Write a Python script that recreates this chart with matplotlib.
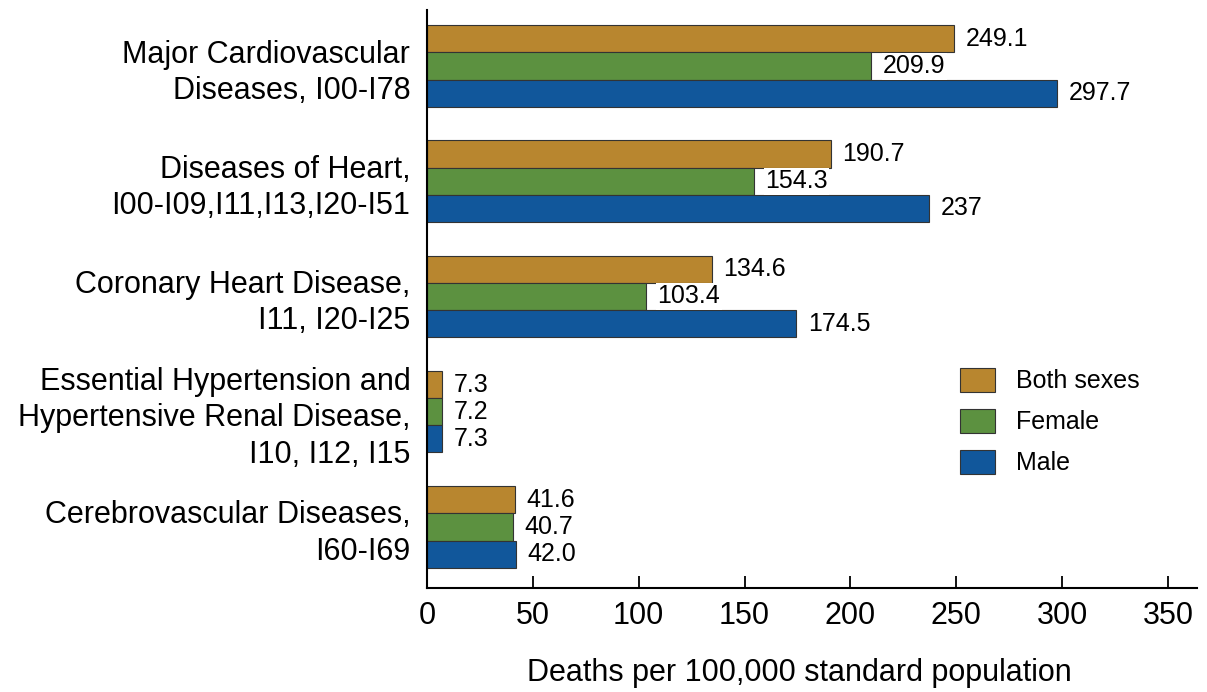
import numpy as np
import matplotlib.pyplot as plt

plt.rcParams['font.family'] = ['Liberation Sans', 'DejaVu Sans']

categories = ["Major Cardiovascular\nDiseases, I00-I78",
              "Diseases of Heart,\nI00-I09,I11,I13,I20-I51",
              "Coronary Heart Disease,\nI11, I20-I25",
              "Essential Hypertension and\nHypertensive Renal Disease,\nI10, I12, I15",
              "Cerebrovascular Diseases,\nI60-I69"]
both = [249.1, 190.7, 134.6, 7.3, 41.6]
female = [209.9, 154.3, 103.4, 7.2, 40.7]
male = [297.7, 237, 174.5, 7.3, 42.0]
both_lbl = ["249.1", "190.7", "134.6", "7.3", "41.6"]
female_lbl = ["209.9", "154.3", "103.4", "7.2", "40.7"]
male_lbl = ["297.7", "237", "174.5", "7.3", "42.0"]
series = [("Both sexes", both, both_lbl, "#B8862F"),
          ("Female", female, female_lbl, "#5C9140"),
          ("Male", male, male_lbl, "#11579B")]

fig = plt.figure(figsize=(12.07, 6.92), dpi=100)
ax = fig.add_axes([427/1207, 1 - 588/692, (1197-427)/1207, (588-10)/692])

y = np.arange(len(categories))
h = 0.236
for i, (name, vals, lbls, col) in enumerate(series):
    pos = y + (i - 1) * h
    ax.barh(pos, vals, height=h, color=col, edgecolor="#333333", linewidth=0.8, label=name)
    for p, v, t in zip(pos, vals, lbls):
        ax.text(v + 5.5, p, t, va="center", ha="left", fontsize=18,
                bbox=dict(facecolor="white", edgecolor="none", pad=1.0))

ax.set_ylim(4.53, -0.486)
ax.set_xlim(0, 363.7)
ax.set_yticks(y)
ax.set_yticklabels(categories, fontsize=22, linespacing=1.28)
ax.tick_params(axis="y", length=0, pad=12)
ax.set_xticks(np.arange(0, 351, 50))
ax.tick_params(axis="x", direction="in", length=9, width=1.3, labelsize=22, pad=9)
ax.spines["top"].set_visible(False)
ax.spines["right"].set_visible(False)
ax.spines["left"].set_linewidth(1.5)
ax.spines["bottom"].set_linewidth(1.5)
ax.set_xlabel("Deaths per 100,000 standard population", fontsize=22, labelpad=20, x=0.484)

ax.legend(loc="upper left", bbox_to_anchor=(0.692, 0.381), frameon=False, fontsize=18,
          borderpad=0, borderaxespad=0,
          handlelength=1.4, handleheight=1.1, handletextpad=0.84, labelspacing=0.62)

plt.savefig("out.png", dpi=100)
